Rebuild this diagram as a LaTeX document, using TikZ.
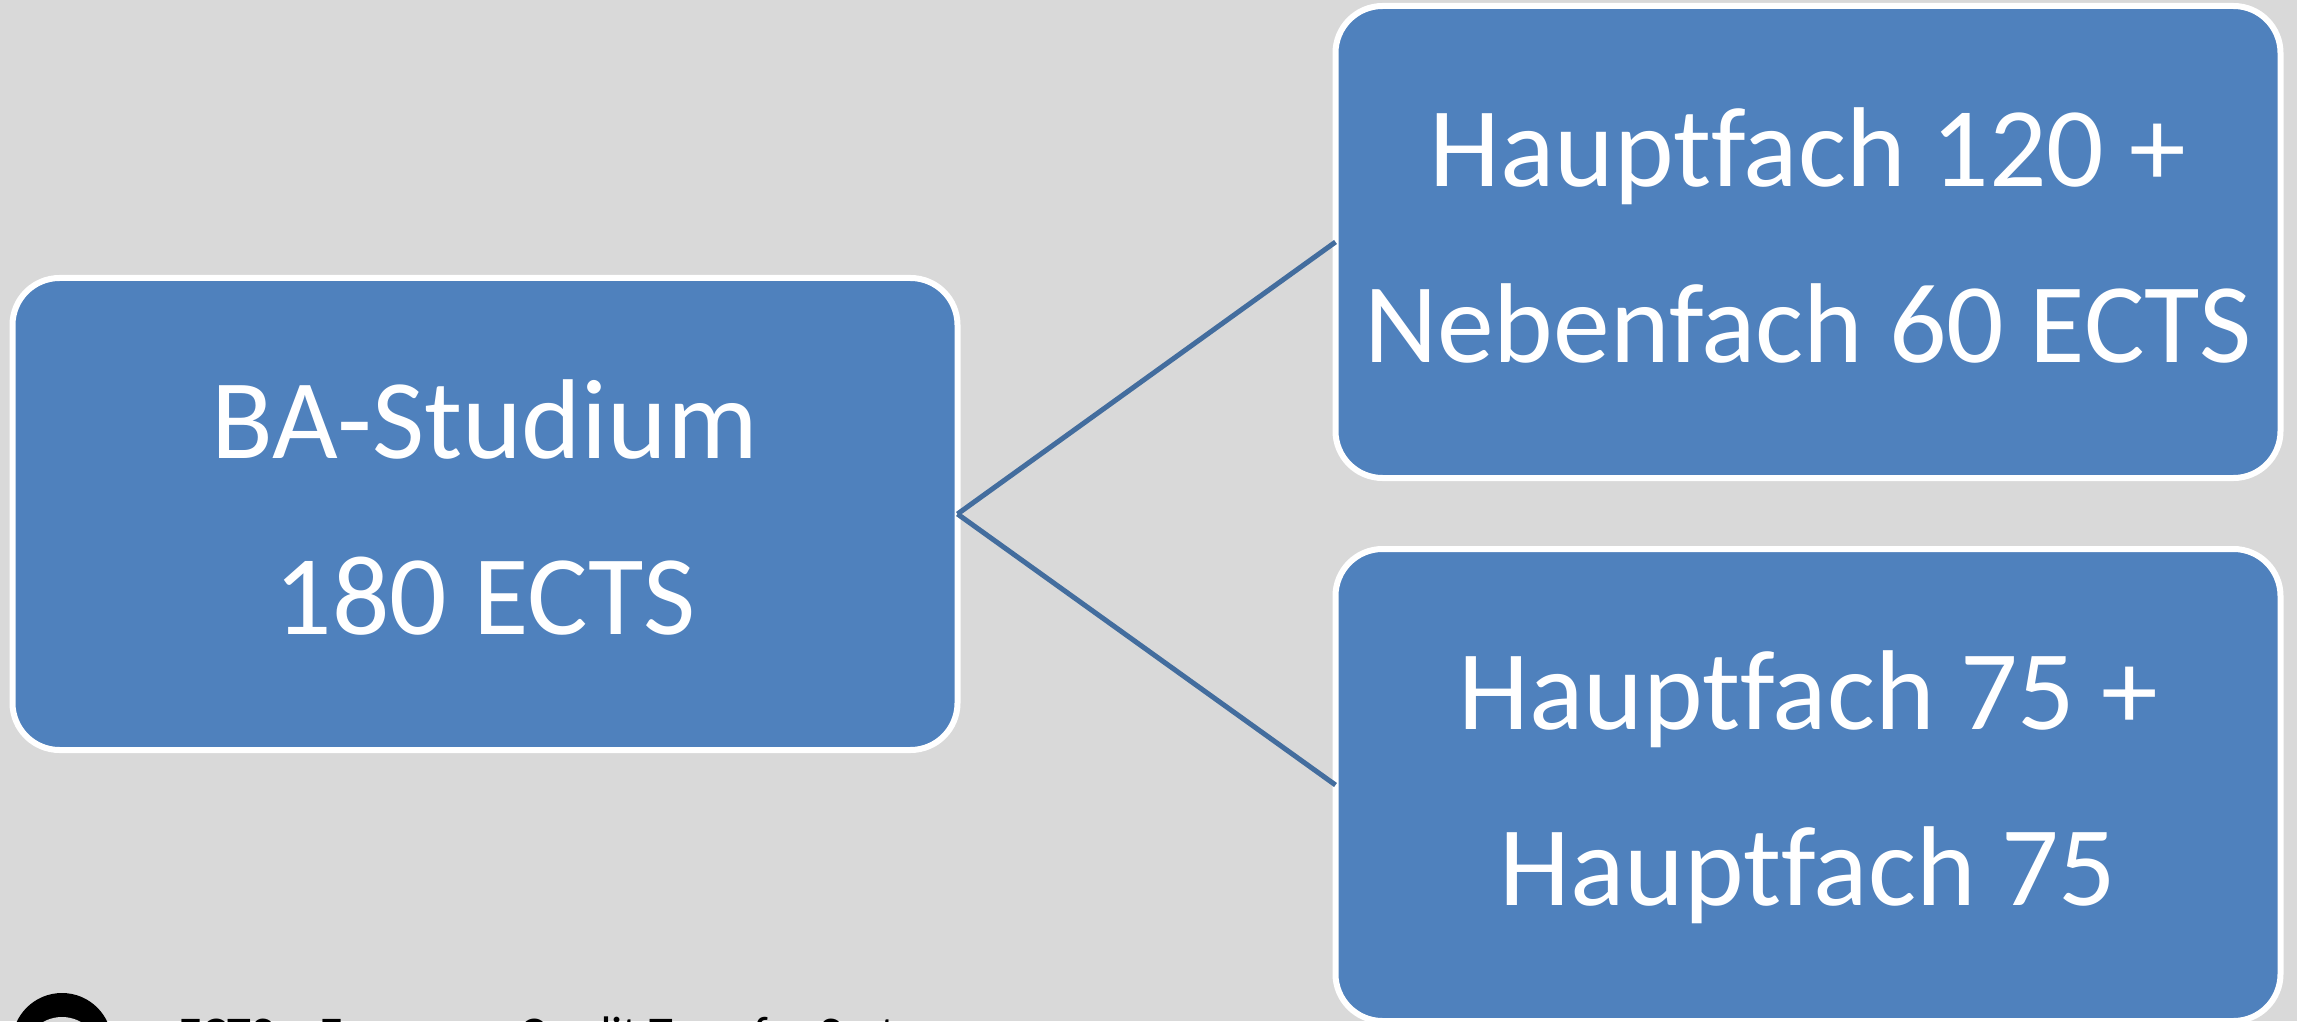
\documentclass[tikz,border=0pt]{standalone}
\usepackage{fontspec}
\setmainfont[Ligatures=NoCommon]{Carlito}
\usepackage{xcolor}
\definecolor{slidegray}{HTML}{D9D9D9}
\definecolor{boxblue}{HTML}{4F81BD}
\definecolor{linkblue}{HTML}{436D9E}
\tikzset{
  studybox/.style={rectangle, draw=white, line width=0.6mm, fill=boxblue, rounded corners=4.7mm,
    minimum width=94.5mm, minimum height=47.2mm, inner sep=0pt, outer sep=0pt, align=center,
    text=white, text depth=3.9pt, font=\fontsize{32.3}{50}\selectfont},
  studylink/.style={draw=linkblue, line width=0.5mm},
}
\begin{document}
\begin{tikzpicture}
      \path[use as bounding box, clip] (0,0) rectangle (22.97,10.21);
      \fill[slidegray] (0,0) rectangle (22.97,10.21);

      \node[studybox] (ba) at (4.85, 5.07) {BA-Studium\\180 ECTS};
      \node[studybox] (major) at (18.08, 7.79) {Hauptfach 120 +\\Nebenfach 60 ECTS};
      \node[studybox] (double) at (18.08, 2.36) {Hauptfach 75 +\\Hauptfach 75};

      \draw[studylink] (ba.east) -- (major.west);
      \draw[studylink] (ba.east) -- (double.west);

      \node[circle, fill=black, inner sep=0pt, minimum size=10mm] (icon) at (0.62, -0.22) {};
      \node[circle, fill=slidegray, inner sep=0pt, minimum size=7.6mm] (iconhole) at (0.62, -0.34) {};
      \node[anchor=base west, inner sep=0pt, font=\fontsize{13.8}{17}\selectfont] (note) at (1.78, -0.297) {ECTS – European Credit Transfer System};
    \end{tikzpicture}
\end{document}
